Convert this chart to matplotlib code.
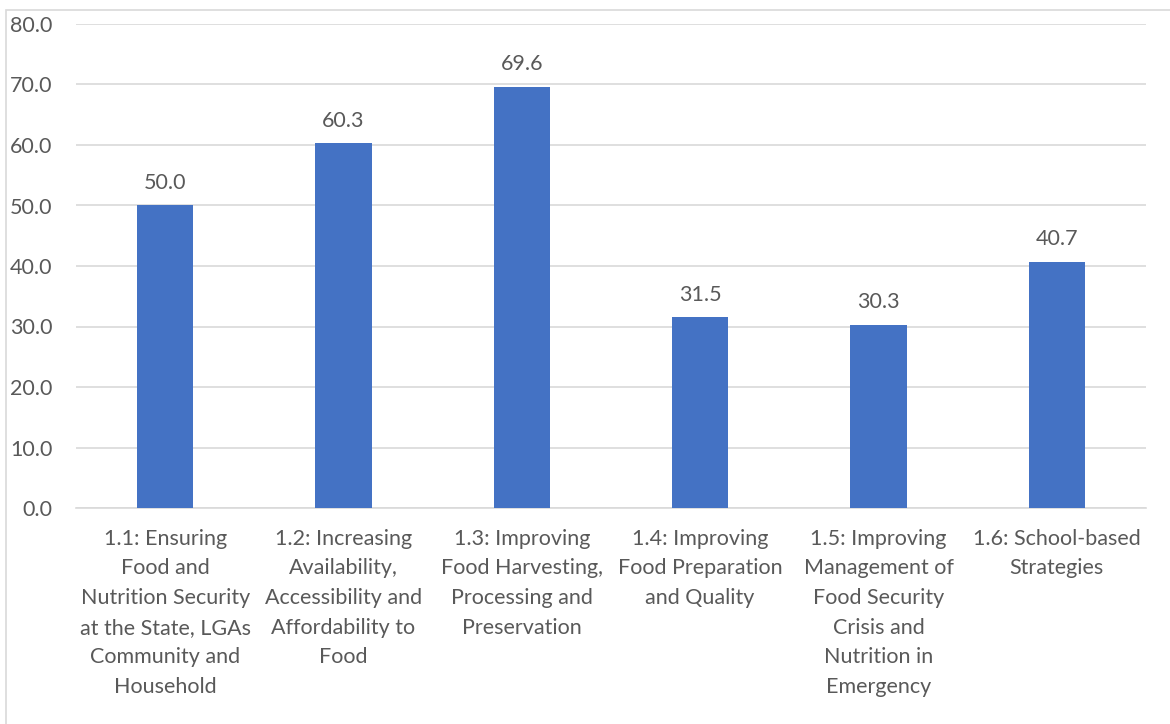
import matplotlib.pyplot as plt
from matplotlib.patches import Rectangle

categories = [
    "1.1: Ensuring\nFood and\nNutrition Security\nat the State, LGAs\nCommunity and\nHousehold",
    "1.2: Increasing\nAvailability,\nAccessibility and\nAffordability to\nFood",
    "1.3: Improving\nFood Harvesting,\nProcessing and\nPreservation",
    "1.4: Improving\nFood Preparation\nand Quality",
    "1.5: Improving\nManagement of\nFood Security\nCrisis and\nNutrition in\nEmergency",
    "1.6: School-based\nStrategies",
]
values = [50.0, 60.3, 69.6, 31.5, 30.3, 40.7]
yticks = [0, 10, 20, 30, 40, 50, 60, 70, 80]

plt.rcParams['font.family'] = ['Lato', 'DejaVu Sans']
text_col = '#595959'
bar_col = '#4472C4'
fs = 15.5

fig = plt.figure(figsize=(11.7, 7.24), dpi=100)
ax = fig.add_axes([76 / 1170, 1 - 508 / 724, (1146 - 76) / 1170, (508 - 24) / 724])

x = range(len(values))
ax.bar(x, values, width=0.315, color=bar_col, zorder=3)
for xi, v in zip(x, values):
    ax.annotate(f'{v:.1f}', (xi, v), xytext=(0, 9), textcoords='offset points',
                ha='center', va='bottom', fontsize=fs, color=text_col)

ax.set_xlim(-0.5, len(values) - 0.5)
ax.set_ylim(0, 80)
ax.set_yticks(yticks)
ax.set_yticklabels([f'{t:.1f}' for t in yticks])
ax.set_xticks(list(x))
ax.set_xticklabels(categories, linespacing=1.6)
ax.tick_params(axis='y', length=0, pad=17, labelsize=fs, labelcolor=text_col)
ax.tick_params(axis='x', length=0, pad=15, labelsize=fs, labelcolor=text_col)
ax.grid(axis='y', color='#D9D9D9', lw=1.2, zorder=0)
for s in ['top', 'right', 'left']:
    ax.spines[s].set_visible(False)
ax.spines['bottom'].set_color('#D9D9D9')
ax.spines['bottom'].set_linewidth(1.2)

# outer chart frame
fig.patches.append(Rectangle((6 / 1170, -0.05), 1.1, 1 - 10 / 724 + 0.05,
                             transform=fig.transFigure, fill=False,
                             edgecolor='#D9D9D9', lw=1.2))

fig.savefig('out.png', dpi=100)
